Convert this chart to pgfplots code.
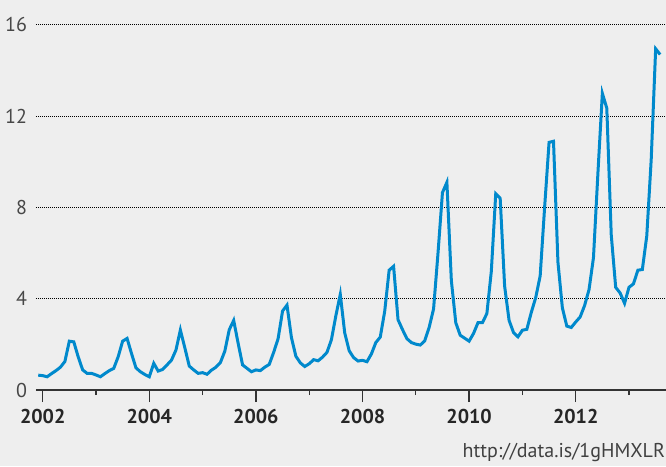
\documentclass[border=0pt]{standalone}
\usepackage{fontspec}
\setmainfont{PT Sans}
\usepackage{pgfplots}
\pgfplotsset{compat=1.18}
\usepackage{pgfplotstable}
\usetikzlibrary{backgrounds}
\definecolor{bgcol}{HTML}{EEEEEE}
\definecolor{linecol}{RGB}{0,137,204}
\definecolor{axcol}{HTML}{333333}
\pgfplotstableread{
m v
-1 0.65
0 0.63
1 0.58
2 0.72
3 0.85
4 1.00
5 1.25
6 2.14
7 2.11
8 1.45
9 0.88
10 0.73
11 0.73
12 0.66
13 0.58
14 0.72
15 0.85
16 0.95
17 1.46
18 2.14
19 2.26
20 1.60
21 0.97
22 0.80
23 0.68
24 0.58
25 1.17
26 0.83
27 0.90
28 1.10
29 1.31
30 1.75
31 2.63
32 1.85
33 1.05
34 0.88
35 0.73
36 0.76
37 0.69
38 0.87
39 1.00
40 1.20
41 1.70
42 2.64
43 3.05
44 2.05
45 1.10
46 0.95
47 0.80
48 0.88
49 0.85
50 1.00
51 1.12
52 1.65
53 2.25
54 3.46
55 3.72
56 2.30
57 1.48
58 1.19
59 1.03
60 1.15
61 1.33
62 1.28
63 1.44
64 1.65
65 2.20
66 3.25
67 4.19
68 2.50
69 1.72
70 1.42
71 1.27
72 1.30
73 1.24
74 1.58
75 2.08
76 2.32
77 3.45
78 5.25
79 5.42
80 3.08
81 2.65
82 2.25
83 2.08
84 2.01
85 1.97
86 2.15
87 2.74
88 3.55
89 6.00
90 8.65
91 9.10
92 4.80
93 2.95
94 2.40
95 2.27
96 2.14
97 2.48
98 2.95
99 2.95
100 3.35
101 5.20
102 8.60
103 8.40
104 4.55
105 3.05
106 2.52
107 2.33
108 2.62
109 2.66
110 3.40
111 4.05
112 5.00
113 8.00
114 10.85
115 10.90
116 5.60
117 3.60
118 2.80
119 2.74
120 2.98
121 3.20
122 3.70
123 4.40
124 5.80
125 9.50
126 13.00
127 12.35
128 6.80
129 4.50
130 4.25
131 3.80
132 4.50
133 4.65
134 5.25
135 5.28
136 6.75
137 10.10
138 14.95
139 14.70
}\datatable
\begin{document}
\begin{tikzpicture}
\begin{axis}[
  scale only axis,
  width=315pt, height=195pt,
  xmin=2001.874, xmax=2013.694,
  ymin=0, ymax=17.09,
  axis x line*=bottom,
  axis y line*=left,
  axis line style={-},
  y axis line style={draw=none},
  x axis line style={draw=axcol, line width=0.65pt},
  xtick={2002,2004,2006,2008,2010,2012},
  minor xtick={2003,2005,2007,2009,2011,2013},
  ytick={0,4,8,12,16},
  tick align=outside,
  major tick length=6pt,
  minor tick length=2.5pt,
  xtick style={draw=axcol, line width=0.65pt},
  minor tick style={draw=axcol, line width=0.65pt},
  ytick style={draw=none},
  /pgf/number format/assume math mode=true,
  /pgf/number format/1000 sep={},
  xticklabel style={font=\fontsize{10}{12}\selectfont\bfseries, text=black!85},
  yticklabel style={font=\fontsize{10}{12}\selectfont, text=black!72, xshift=5pt},
  ymajorgrids,
  grid style={draw=black, line width=0.5pt, dash pattern=on 0.5pt off 0.5pt},
  clip=false,
]
\addplot[linecol, line width=1.5pt, line join=miter] table[x expr=2002+\thisrow{m}/12, y=v] {\datatable};
\coordinate (bl) at (rel axis cs:-0.0571,-0.1949);
\coordinate (tr) at (rel axis cs:1,1);
\node[anchor=base east, font=\fontsize{10}{12}\selectfont, text=black!75, inner sep=0pt] at (rel axis cs:0.999,-0.174) {http://data.is/1gHMXLR};
\end{axis}
\begin{pgfonlayer}{background}
\fill[bgcol] (bl) rectangle (tr);
\end{pgfonlayer}
\pgfresetboundingbox
\path[use as bounding box] (bl) rectangle (tr);
\end{tikzpicture}
\end{document}
